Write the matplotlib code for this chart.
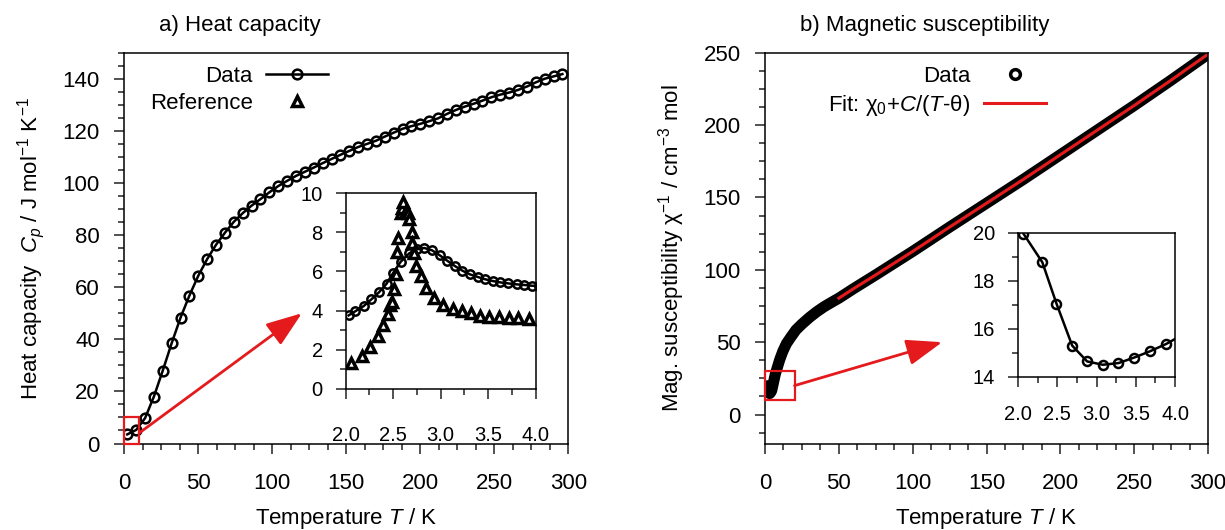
import numpy as np
import matplotlib
matplotlib.use('Agg')
import matplotlib.pyplot as plt
from matplotlib.ticker import MultipleLocator, FormatStrFormatter
from matplotlib.patches import Rectangle
from matplotlib.lines import Line2D

plt.rcParams['font.family'] = ['Liberation Sans', 'DejaVu Sans']
plt.rcParams['mathtext.fontset'] = 'custom'
plt.rcParams['mathtext.rm'] = 'Liberation Sans'
plt.rcParams['mathtext.it'] = 'Liberation Sans:italic'
plt.rcParams['font.size'] = 16
plt.rcParams['axes.linewidth'] = 1.1

# heat capacity, whole range (T in K, Cp in J/mol/K)
cp_T = [2, 8, 14, 20, 26, 32, 38, 44, 50, 56, 62, 68, 74, 80, 86, 92, 98,
        104, 110, 116, 122, 128, 134, 140, 146, 152, 158, 164, 170, 176,
        182, 188, 194, 200, 206, 212, 218, 224, 230, 236, 242, 248, 254,
        260, 266, 272, 278, 284, 290, 296]
cp_val = [3.5, 5.2, 9.7, 18.0, 28.0, 38.5, 48.3, 56.8, 64.4, 70.8, 76.3,
          80.9, 85.1, 88.4, 91.3, 93.8, 96.4, 98.8, 100.8, 102.7, 104.3,
          105.9, 107.6, 109.2, 110.8, 112.3, 113.8, 115.0, 116.2, 117.8,
          119.3, 120.8, 121.8, 122.7, 123.7, 124.8, 126.5, 128.0, 129.3,
          130.4, 131.6, 132.9, 133.9, 134.7, 135.7, 137.0, 138.6, 140.0,
          140.9, 141.8]

# heat capacity, low temperature zoom
cpz_T = [2.03, 2.10, 2.19, 2.27, 2.35, 2.43, 2.50, 2.58, 2.67, 2.75, 2.83,
         2.91, 2.99, 3.07, 3.15, 3.23, 3.31, 3.39, 3.47, 3.55, 3.63, 3.71,
         3.80, 3.88, 3.96, 4.04]
cpz_val = [3.75, 3.96, 4.23, 4.57, 4.93, 5.37, 5.92, 6.50, 6.93, 7.15, 7.20,
           7.08, 6.83, 6.55, 6.28, 6.04, 5.85, 5.72, 5.60, 5.51, 5.44, 5.39,
           5.34, 5.31, 5.27, 5.25]
ref_T = [2.06, 2.17, 2.26, 2.34, 2.39, 2.45, 2.47, 2.49, 2.51, 2.53, 2.54,
         2.55, 2.58, 2.59, 2.60, 2.64, 2.66, 2.67, 2.70, 2.70, 2.72, 2.74,
         2.79, 2.85, 2.93, 3.03, 3.13, 3.23, 3.32, 3.42, 3.51, 3.62, 3.72,
         3.82, 3.93]
ref_val = [1.30, 1.67, 2.15, 2.70, 3.26, 3.82, 4.28, 4.43, 5.12, 5.85, 6.99,
           7.70, 8.98, 9.27, 9.54, 9.10, 9.00, 8.67, 8.04, 7.44, 6.96, 6.28,
           5.77, 5.14, 4.64, 4.27, 4.06, 3.98, 3.87, 3.74, 3.69, 3.65, 3.64,
           3.60, 3.58]

# inverse susceptibility
chi_T = [2.07, 2.31, 2.49, 2.69, 2.88, 3.08, 3.28, 3.48, 3.68, 3.89, 4.5,
         5.5, 7, 8.5, 10, 12, 14.5, 17.5, 21, 25, 30, 35, 40, 45, 50, 60,
         75, 100, 125, 150, 175, 200, 225, 250, 275, 300]
chi_inv = [19.97, 18.78, 17.06, 15.31, 14.65, 14.51, 14.58, 14.81, 15.07,
           15.38, 16.5, 21, 28, 33, 38, 43.5, 49, 53.5, 58.5, 62.5, 67, 71,
           74.5, 77.5, 80.4, 87, 96.5, 112.7, 129.5, 146, 162.5, 179.5,
           196.5, 213.5, 231, 249]
fit_T = [50, 60, 75, 100, 125, 150, 175, 200, 225, 250, 275, 300]
fit_inv = [80.4, 87, 96.5, 112.7, 129.5, 146, 162.5, 179.5, 196.5, 213.5,
           231, 249]
chiz_T = [2.07, 2.31, 2.49, 2.69, 2.88, 3.08, 3.28, 3.48, 3.68, 3.89, 4.09]
chiz_inv = [19.97, 18.78, 17.06, 15.31, 14.65, 14.51, 14.58, 14.81, 15.07,
            15.38, 15.75]

RED = '#e41a1c'
W, H = 1225, 530


def px_axes(fig, x0, y0, x1, y1):
    # pixel box (top-left origin) -> figure axes
    return fig.add_axes([x0 / W, 1 - y1 / H, (x1 - x0) / W, (y1 - y0) / H])


def style(ax, xmaj, xmin, ymaj, ymin, padx, pady, fs):
    ax.xaxis.set_major_locator(MultipleLocator(xmaj))
    ax.xaxis.set_minor_locator(MultipleLocator(xmin))
    ax.yaxis.set_major_locator(MultipleLocator(ymaj))
    ax.yaxis.set_minor_locator(MultipleLocator(ymin))
    ax.tick_params(which='both', direction='out', top=False, right=False,
                   width=1.1, color='#222222')
    ax.tick_params(which='major', length=7.5)
    ax.tick_params(which='minor', length=4)
    ax.tick_params(axis='x', pad=padx, labelsize=fs)
    ax.tick_params(axis='y', pad=pady, labelsize=fs)


fig = plt.figure(figsize=(W / 100, H / 100), dpi=100)

# ---------------- a) heat capacity
ax1 = px_axes(fig, 124.3, 52.7, 568.3, 443.5)
ax1.plot(cp_T, cp_val, '-o', color='k', lw=1.8, ms=7, mfc='none',
         mec='k', mew=1.8)
ax1.set_xlim(0, 300)
ax1.set_ylim(0, 150)
style(ax1, 50, 12.5, 20, 5, 14, 10, 16)
ax1.set_xlabel('Temperature $T$ / K', fontsize=16)
ax1.xaxis.set_label_coords(0.5, -0.16)
ax1.set_ylabel(r'Heat capacity  $C_p$ / J mol$^{-1}$ K$^{-1}$', fontsize=16)
ax1.yaxis.set_label_coords(-0.175, 0.5)
ax1.add_patch(Rectangle((0, 0), 10, 10, fill=False, ec=RED, lw=1.6,
                        clip_on=False, zorder=5))
ax1.annotate('', xy=(120, 50), xytext=(10, 4),
             arrowprops=dict(arrowstyle='-|>,head_length=1.1,head_width=0.4',
                             color=RED, lw=2, mutation_scale=20,
                             shrinkA=0, shrinkB=0))
h_data = Line2D([], [], color='k', lw=1.8, marker='o', ms=7, mfc='none',
                mec='k', mew=1.8)
h_ref = Line2D([], [], ls='none', marker='^', ms=7, mfc='white', mec='k',
               mew=2.5)
ax1.legend([h_data, h_ref], ['Data', 'Reference'], loc='upper right',
           bbox_to_anchor=(0.459, 0.967), frameon=False, markerfirst=False,
           handlelength=2.8, handletextpad=0.6, labelspacing=0.3,
           borderpad=0, borderaxespad=0, fontsize=16)
fig.text(240 / W, 1 - 25 / H, 'a) Heat capacity', ha='center', va='center',
         fontsize=16)

ins1 = px_axes(fig, 345.7, 193.3, 535.5, 388.7)
ins1.plot(cpz_T, cpz_val, '-o', color='k', lw=1.8, ms=6, mfc='none',
          mec='k', mew=1.8)
ins1.plot(ref_T, ref_val, ls='none', marker='^', ms=6.5, mfc='white',
          mec='k', mew=2.5)
ins1.set_xlim(2, 4)
ins1.set_ylim(0, 10)
style(ins1, 0.5, 0.25, 2, 1, 19, 9, 14.5)
ins1.xaxis.set_major_formatter(FormatStrFormatter('%.1f'))

# ---------------- b) magnetic susceptibility
ax2 = px_axes(fig, 765, 52.7, 1208, 443.5)
ax2.plot(chi_T, chi_inv, color='k', lw=8, solid_capstyle='round',
         solid_joinstyle='round')
fit_line, = ax2.plot(fit_T, fit_inv, color=RED, lw=2.2)
ax2.set_xlim(0, 300)
ax2.set_ylim(-20, 250)
style(ax2, 50, 12.5, 50, 12.5, 14, 10, 16)
ax2.set_xlabel('Temperature $T$ / K', fontsize=16)
ax2.xaxis.set_label_coords(0.5, -0.16)
ax2.set_ylabel('Mag. susceptibility χ$^{-1}$ / cm$^{-3}$ mol', fontsize=16)
ax2.yaxis.set_label_coords(-0.175, 0.5)
ax2.add_patch(Rectangle((0, 10), 20, 20, fill=False, ec=RED, lw=1.6,
                        clip_on=False, zorder=5))
ax2.annotate('', xy=(120, 50), xytext=(20, 20),
             arrowprops=dict(arrowstyle='-|>,head_length=1.1,head_width=0.4',
                             color=RED, lw=2, mutation_scale=20,
                             shrinkA=0, shrinkB=0))
h_chi = Line2D([], [], ls='none', marker='o', ms=7, mfc='white', mec='k',
               mew=2.5)
ax2.legend([h_chi, fit_line], ['Data', r'Fit: χ$_0$+$C/(T$-θ)'],
           loc='upper right', bbox_to_anchor=(0.634, 0.967), frameon=False,
           markerfirst=False, handlelength=2.8, handletextpad=0.6,
           labelspacing=0.3, borderpad=0, borderaxespad=0, fontsize=16)
fig.text(925 / W, 1 - 25 / H, 'b) Magnetic susceptibility', ha='center',
         va='center', fontsize=16)

ins2 = px_axes(fig, 1018, 233, 1175, 377)
ins2.plot(chiz_T, chiz_inv, '-o', color='k', lw=1.8, ms=6.5, mfc='none',
          mec='k', mew=1.8)
ins2.set_xlim(2, 4)
ins2.set_ylim(14, 20)
style(ins2, 0.5, 0.25, 2, 1, 13, 9, 14.5)
ins2.xaxis.set_major_formatter(FormatStrFormatter('%.1f'))

fig.savefig('out.png', dpi=100)
